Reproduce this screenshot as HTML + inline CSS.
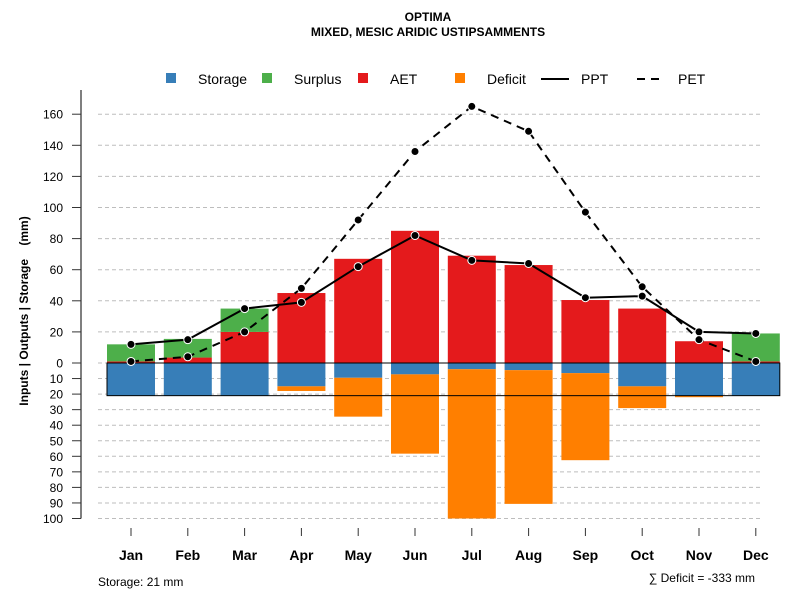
<!DOCTYPE html>
<html><head><meta charset="utf-8"><style>
body{margin:0;background:#fff}
svg{display:block;font-family:"Liberation Sans",Arial,sans-serif}
</style></head><body>
<svg id="chart" width="800" height="600" viewBox="0 0 800 600">
<text x="428" y="21" text-anchor="middle" font-size="12" font-weight="bold">OPTIMA</text>
<text x="428" y="36" text-anchor="middle" font-size="12" font-weight="bold">MIXED, MESIC ARIDIC USTIPSAMMENTS</text>
<g font-size="14">
 <g><rect x="166" y="73" width="10" height="10" fill="#377eb8"/><text x="198" y="84">Storage</text></g>
 <g><rect x="262" y="73" width="10" height="10" fill="#4daf4a"/><text x="294" y="84">Surplus</text></g>
 <g><rect x="358" y="73" width="10" height="10" fill="#e41a1c"/><text x="390" y="84">AET</text></g>
 <g><rect x="455" y="73" width="10" height="10" fill="#ff7f00"/><text x="487" y="84">Deficit</text></g>
 <g><line x1="541" y1="79" x2="569" y2="79" stroke="#000" stroke-width="2"/><text x="581" y="84">PPT</text></g>
 <g><line x1="637" y1="79" x2="663" y2="79" stroke="#000" stroke-width="2" stroke-dasharray="8,6"/><text x="678" y="84">PET</text></g>
</g>
<g id="grid"></g><g id="bars"></g><g id="lines"></g><g id="axes"></g>
<text transform="translate(28,311) rotate(-90)" text-anchor="middle" font-size="12" font-weight="bold" xml:space="preserve">Inputs | Outputs | Storage    (mm)</text>
<text x="98" y="586" font-size="12">Storage: 21 mm</text>
<text x="755" y="582" text-anchor="end" font-size="12">∑ Deficit = -333 mm</text>
</svg>
<script>
const months=["Jan","Feb","Mar","Apr","May","Jun","Jul","Aug","Sep","Oct","Nov","Dec"];
const ppt=[12,15,35,39,62,82,66,64,42,43,20,19];
const pet=[1,4,20,48,92,136,165,149,97,49,15,1];
const aet=[1,3.5,20,45,67,85,69,63,40.5,35,14,1];
const surplus=[11,12,15,0,0,0,0,0,0,0,0,18];
const storage=[21,21,21,15,9.5,7.3,4,4.6,6.5,15,21,21];
const deficit=[0,0,0,3,25,51,96,86,56,14,1,0];
const posTicks=[0,20,40,60,80,100,120,140,160];
const negTicks=[10,20,30,40,50,60,70,80,90,100];
const storageCap=21;
const NS="http://www.w3.org/2000/svg";
const yS=v=>363-v*1.555;
const xS=i=>131+i*56.8;
const BW=48;
function mk(parent,tag,attrs){const e=document.createElementNS(NS,tag);for(const k in attrs)e.setAttribute(k,attrs[k]);document.getElementById(parent).appendChild(e);return e;}
// grid
posTicks.concat(negTicks.map(v=>-v)).forEach(v=>{
 const g=mk('grid','line',{x1:98,x2:760,y1:yS(v),y2:yS(v),stroke:'#bdbdbd','stroke-dasharray':'4,3'});
 
 
});
// bars
months.forEach((m,i)=>{
 const x=xS(i)-BW/2;
 let r=mk('bars','rect',{x:x,width:BW,y:yS(aet[i]),height:aet[i]*1.555,fill:'#e41a1c'});
 
 
 if(surplus[i]>0){r=mk('bars','rect',{x:x,width:BW,y:yS(aet[i]+surplus[i]),height:surplus[i]*1.555,fill:'#4daf4a'});
 
 }
 r=mk('bars','rect',{x:x,width:BW,y:yS(0),height:storage[i]*1.555,fill:'#377eb8'});
 
 
 if(deficit[i]>0){r=mk('bars','rect',{x:x,width:BW,y:yS(-storage[i]),height:deficit[i]*1.555,fill:'#ff7f00'});
 
 }
});
const box=mk('bars','rect',{x:xS(0)-BW/2,y:yS(0),width:xS(11)-xS(0)+BW,height:storageCap*1.555,fill:'none',stroke:'#000','stroke-width':1});


// lines
function series(arr,name,dash){
 const p=mk('lines','polyline',{points:arr.map((v,i)=>xS(i)+','+yS(v)).join(' '),fill:'none',stroke:'#000','stroke-width':2,'stroke-dasharray':dash});
 
 
 arr.forEach((v,i)=>{const c=mk('lines','circle',{cx:xS(i),cy:yS(v),r:4,fill:'#000',stroke:'#fff','stroke-width':1});
 
 });
}
series(ppt,'ppt','none');
series(pet,'pet','8,6');
// axes
const ax=mk('axes','line',{x1:81,x2:81,y1:90,y2:yS(-100),stroke:'#555','stroke-width':1.5});


posTicks.forEach(v=>{
 const t=mk('axes','line',{x1:72,x2:81,y1:yS(v),y2:yS(v),stroke:'#333'});
 
 
 const l=mk('axes','text',{x:63,y:yS(v)+4.5,'text-anchor':'end','font-size':12});l.textContent=v;
 
 
});
negTicks.forEach(v=>{
 const t=mk('axes','line',{x1:72,x2:81,y1:yS(-v),y2:yS(-v),stroke:'#333'});
 
 
 const l=mk('axes','text',{x:63,y:yS(-v)+4.5,'text-anchor':'end','font-size':12});l.textContent=v;
 
 
});
months.forEach((m,i)=>{
 const t=mk('axes','line',{x1:xS(i),x2:xS(i),y1:528,y2:536,stroke:'#333'});
 
 
 const l=mk('axes','text',{x:xS(i),y:560,'text-anchor':'middle','font-size':14,'font-weight':'bold'});l.textContent=m;
 
 
});
</script>
</body></html>
